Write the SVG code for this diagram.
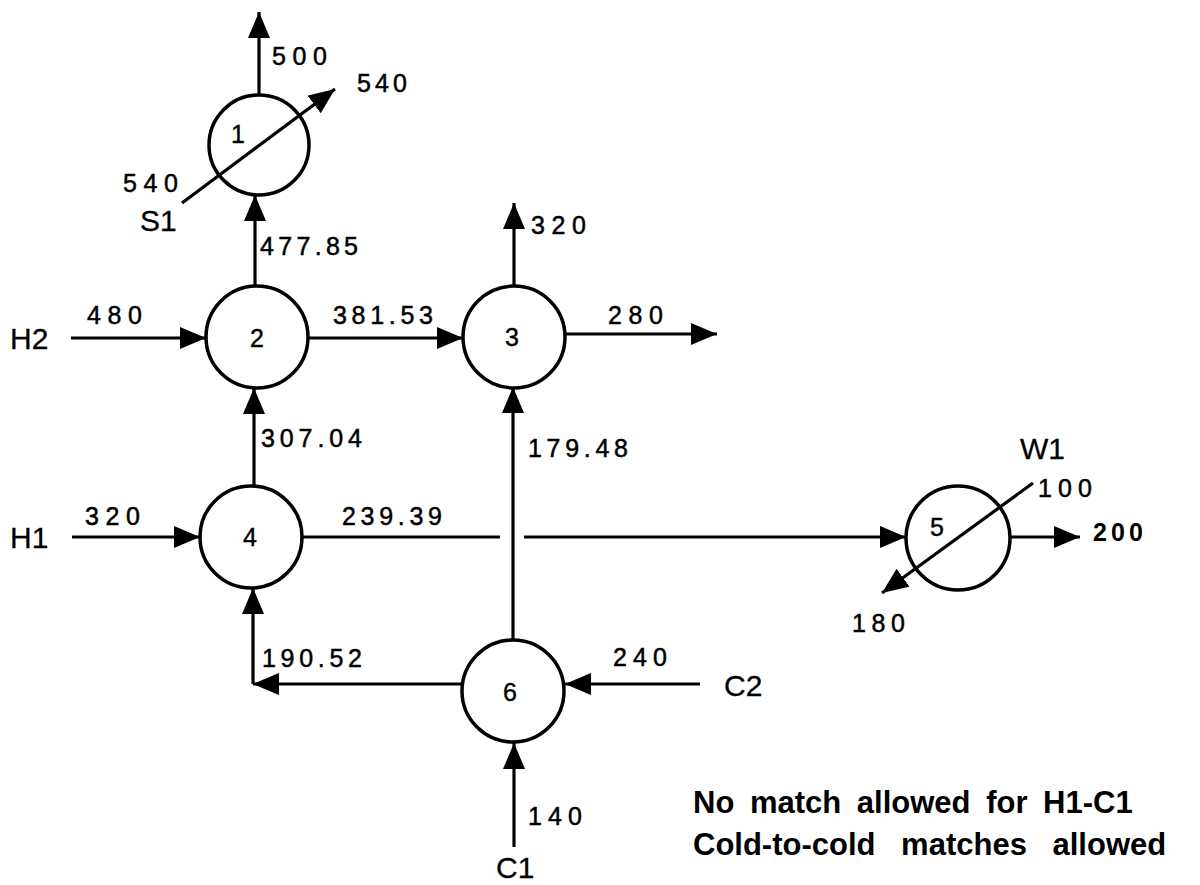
<svg xmlns="http://www.w3.org/2000/svg" width="1200" height="885" viewBox="0 0 1200 885">
  <defs>
    <marker id="ah" markerUnits="userSpaceOnUse" markerWidth="28" markerHeight="24" refX="26" refY="11" orient="auto">
      <path d="M0,0 L26,11 L0,22 z" fill="#000"/>
    </marker>
    <style>
      .node circle { fill: #fff; stroke: #000; stroke-width: 3.5; }
      .node text { font-family: "Liberation Sans", Arial, sans-serif; font-size: 25px; fill: #000; stroke: #000; stroke-width: 0.4; }
      .conn line { stroke: #000; stroke-width: 3.2; fill: none; }
      .arr { marker-end: url(#ah); }
      .num { font-family: "Liberation Sans", Arial, sans-serif; font-size: 25px; fill: #000; stroke: #000; stroke-width: 0.5; }
      .bnum { font-family: "Liberation Sans", Arial, sans-serif; font-size: 25px; font-weight: bold; fill: #000; }
      .name { font-family: "Liberation Sans", Arial, sans-serif; font-size: 30px; fill: #000; stroke: #000; stroke-width: 0.3; }
      .note { font-family: "Liberation Sans", Arial, sans-serif; font-size: 31px; font-weight: bold; fill: #000; }
    </style>
  </defs>
  <rect x="0" y="0" width="1200" height="885" fill="#fff"/>

  <g id="connectors" class="conn">
    <line class="arr" x1="259" y1="95" x2="259" y2="12"/>
    <line class="arr" x1="255" y1="286" x2="255" y2="195"/>
    <line class="arr" x1="71" y1="338" x2="206" y2="338"/>
    <line class="arr" x1="308" y1="338" x2="463" y2="338"/>
    <line class="arr" x1="514" y1="286" x2="514" y2="203"/>
    <line class="arr" x1="565" y1="334" x2="717" y2="334"/>
    <line class="arr" x1="254" y1="486" x2="254" y2="388"/>
    <line class="arr" x1="72" y1="537" x2="200" y2="537"/>
    <line x1="302" y1="537" x2="500" y2="537"/>
    <line class="arr" x1="524" y1="537" x2="906" y2="537"/>
    <line class="arr" x1="513" y1="640" x2="513" y2="387"/>
    <line class="arr" x1="462" y1="684" x2="253" y2="684"/>
    <line class="arr" x1="253" y1="684" x2="253" y2="588"/>
    <line class="arr" x1="700" y1="684" x2="565" y2="684"/>
    <line class="arr" x1="514" y1="847" x2="514" y2="743"/>
    <line class="arr" x1="1011" y1="537" x2="1080" y2="537"/>
  </g>

  <g id="node1" class="node">
    <circle cx="259" cy="145" r="50"/>
    <text x="231" y="143">1</text>
    <line x1="182" y1="203" x2="335" y2="89" stroke="#000" stroke-width="3.2" marker-end="url(#ah)"/>
  </g>
  <g id="node2" class="node">
    <circle cx="257" cy="337" r="51"/>
    <text x="257" y="347" text-anchor="middle">2</text>
  </g>
  <g id="node3" class="node">
    <circle cx="514" cy="337" r="51"/>
    <text x="512" y="346" text-anchor="middle">3</text>
  </g>
  <g id="node4" class="node">
    <circle cx="251" cy="537" r="51"/>
    <text x="250" y="546" text-anchor="middle">4</text>
  </g>
  <g id="node5" class="node">
    <circle cx="958" cy="538" r="52"/>
    <text x="930" y="536">5</text>
    <line x1="1033" y1="483" x2="882" y2="593" stroke="#000" stroke-width="3.2" marker-end="url(#ah)"/>
  </g>
  <g id="node6" class="node">
    <circle cx="513" cy="691" r="51"/>
    <text x="510" y="701" text-anchor="middle">6</text>
  </g>

  <g id="labels">
    <text class="num" x="272" y="65" textLength="55" lengthAdjust="spacing">500</text>
    <text class="num" x="357" y="92" textLength="50" lengthAdjust="spacing">540</text>
    <text class="num" x="123" y="192" textLength="55" lengthAdjust="spacing">540</text>
    <text class="name" x="140" y="231">S1</text>
    <text class="num" x="260" y="255" textLength="98" lengthAdjust="spacing">477.85</text>
    <text class="name" x="10" y="349">H2</text>
    <text class="num" x="87" y="324" textLength="55" lengthAdjust="spacing">480</text>
    <text class="num" x="333" y="324" textLength="100" lengthAdjust="spacing">381.53</text>
    <text class="num" x="531" y="234" textLength="55" lengthAdjust="spacing">320</text>
    <text class="num" x="608" y="324" textLength="55" lengthAdjust="spacing">280</text>
    <text class="num" x="261" y="447" textLength="101" lengthAdjust="spacing">307.04</text>
    <text class="num" x="528" y="457" textLength="100" lengthAdjust="spacing">179.48</text>
    <text class="name" x="10" y="548">H1</text>
    <text class="num" x="85" y="525" textLength="55" lengthAdjust="spacing">320</text>
    <text class="num" x="342" y="525" textLength="100" lengthAdjust="spacing">239.39</text>
    <text class="name" x="1020" y="459">W1</text>
    <text class="num" x="1038" y="497" textLength="54" lengthAdjust="spacing">100</text>
    <text class="bnum" x="1093" y="541" textLength="50" lengthAdjust="spacing">200</text>
    <text class="num" x="852" y="632" textLength="53" lengthAdjust="spacing">180</text>
    <text class="num" x="262" y="667" textLength="100" lengthAdjust="spacing">190.52</text>
    <text class="num" x="613" y="666" textLength="54" lengthAdjust="spacing">240</text>
    <text class="name" x="724" y="696">C2</text>
    <text class="num" x="528" y="825" textLength="54" lengthAdjust="spacing">140</text>
    <text class="name" x="496" y="878">C1</text>
    <text class="note" x="693" y="813" word-spacing="7">No match allowed for H1-C1</text>
    <text class="note" x="693" y="855" word-spacing="17">Cold-to-cold matches allowed</text>
  </g>
</svg>
